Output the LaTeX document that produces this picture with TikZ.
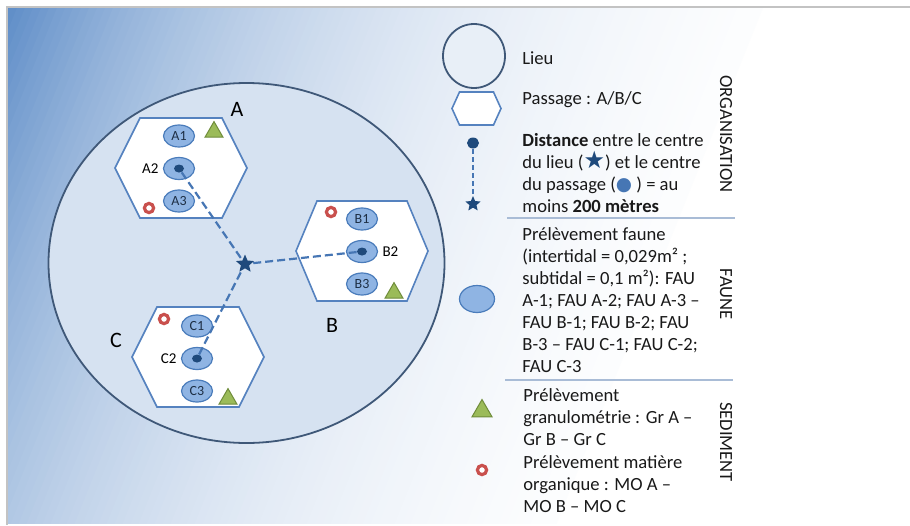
\documentclass[tikz,border=0pt]{standalone}
\usepackage{fontspec}
\setmainfont{Carlito}
\newfontfamily\symfont{DejaVu Sans}
\usetikzlibrary{shapes.geometric}
\definecolor{bgdark}{HTML}{5A8AC6}
\definecolor{framegray}{HTML}{C3C3C3}
\definecolor{lieufill}{HTML}{D6E2F1}
\definecolor{lieuline}{HTML}{3F5878}
\definecolor{passline}{HTML}{5582BF}
\definecolor{faunefill}{HTML}{8FB4E3}
\definecolor{fauneline}{HTML}{4A7CBB}
\definecolor{navy}{HTML}{1F4A7C}
\definecolor{distblue}{HTML}{4676B4}
\definecolor{grfill}{HTML}{9BBB59}
\definecolor{grline}{HTML}{6F8C3A}
\definecolor{mored}{HTML}{C9504D}
\definecolor{sepline}{HTML}{A9BCD6}
\definecolor{inktext}{HTML}{1E2F45}
\tikzset{
  lieu/.style={ellipse, draw=lieuline, line width=0.9pt, fill=lieufill, inner sep=0pt},
  passage/.style={draw=passline, line width=0.8pt, fill=white, line join=miter},
  faune/.style={ellipse, draw=fauneline, line width=0.6pt, fill=faunefill, inner sep=0pt,
    minimum width=15.5pt, minimum height=11pt, font=\fontsize{7}{8}\selectfont, text=inktext},
  centredot/.style={ellipse, fill=navy, inner sep=0pt, minimum width=5pt, minimum height=4pt},
  centrestar/.style={star, star points=5, star point ratio=2.2, fill=navy, inner sep=0pt, minimum size=9.5pt},
  distline/.style={distblue, line width=1.1pt, dash pattern=on 4pt off 2pt},
  granulo/.style={regular polygon, regular polygon sides=3, fill=grfill, draw=grline,
    line width=0.5pt, inner sep=0pt, minimum size=10.4pt},
  matorg/.style={circle, draw=mored, fill=white, line width=1.6pt, inner sep=0pt, minimum size=4.6pt},
  siteletter/.style={font=\fontsize{11}{13}\selectfont},
  samplelabel/.style={font=\fontsize{7.5}{9}\selectfont, inner sep=0.5pt, label distance=1.5pt},
  legtext/.style={anchor=west, align=left, inner sep=0pt, text=black!90, font=\fontsize{9.3}{11}\selectfont},
  theme/.style={rotate=-90, inner sep=0pt, text=black!90, font=\fontsize{9.3}{11}\selectfont},
}

\begin{document}
\begin{tikzpicture}[x=0.5pt,y=-0.5pt]
\useasboundingbox (0,0) rectangle (910,525);
\fill[white] (0,0) rectangle (910,525);
% backdrop, dark top left to white
\begin{scope}
\clip (8,8) rectangle (910,523);
\foreach \t in {-20,-12,...,760}{
  \pgfmathsetmacro\p{min(100,max(0,100*(exp(-\t/320)-0.08)/0.92))}
  \fill[bgdark!\p!white] ({\t},0) -- ({\t+10},0) -- ({\t+10-212},530) -- ({\t-212},530) -- cycle;
}
\end{scope}
\draw[framegray, line width=1pt] (7,525) -- (7,7) -- (910,7);

% le lieu
\node[lieu, minimum width=198pt, minimum height=180pt] (lieu) at (246.5,263) {};

% passages
\foreach \cx/\cy/\hw in {181/168/41, 362/251/45, 198/357/41}
  \draw[passage] (\cx-\hw,\cy-50) -- (\cx+\hw,\cy-50) -- (\cx+66,\cy) -- (\cx+\hw,\cy+50)
    -- (\cx-\hw,\cy+50) -- (\cx-66,\cy) -- cycle;

\node[siteletter] (siteA) at (237,109) {A};
\node[siteletter] (siteB) at (332,325) {B};
\node[siteletter] (siteC) at (116,340) {C};

% prelevements faune
\foreach \n/\N/\cx/\cy/\side in {a/A/179/136/left, b/B/362/219/right, c/C/197/326/left}{
  \node[faune] (\n1) at (\cx,\cy) {\N1};
  \node[faune, label={[samplelabel]\side:\N2}] (\n2) at (\cx,\cy+32.5) {};
  \node[centredot] (\n2c) at (\n2) {};
  \node[faune] (\n3) at (\cx,\cy+65) {\N3};
}

% sediment
\node[granulo] (grA) at (214,132) {};
\node[granulo] (grB) at (394,293) {};
\node[granulo] (grC) at (228,399) {};
\node[matorg] (moA) at (149,208) {};
\node[matorg] (moB) at (331,212) {};
\node[matorg] (moC) at (164,319) {};

\node[centrestar] (centre) at (245,264) {};
\foreach \n in {a,b,c}
  \draw[distline] (\n2c) -- (centre);

% legende
\node[lieu, fill=lieufill!55!white, minimum width=31pt, minimum height=32pt] (keylieu) at (474,56) {};
\node[legtext] (txtlieu) at (522,58) {Lieu};
\draw[passage] (459.5,92) -- (493.5,92) -- (501,108.5) -- (493.5,125) -- (459.5,125) -- (452,108.5) -- cycle;
\node[legtext] (txtpass) at (522,100) {Passage : A/B/C};
\node[centredot, minimum width=6pt, minimum height=5.5pt] (keydot) at (473,143) {};
\node[centrestar, minimum size=8pt] (keystar) at (473,204) {};
\draw[distline, dash pattern=on 2.5pt off 1.5pt] (keydot) -- (keystar);
\node[legtext] (txtdist) at (522,173) {\textbf{Distance} entre le centre\\
  du lieu ({\symfont\fontsize{12}{11}\selectfont\color{navy}★}) et le centre\\
  du passage ({\symfont\color{distblue}●} ) = au\\
  moins \textbf{200 mètres}};
\node[theme] (thorg) at (726,134) {ORGANISATION};
\draw[sepline, line width=0.8pt] (507,218) -- (735,218);

\node[faune, minimum width=17.5pt, minimum height=13.5pt] (keyfaune) at (477,299) {};
\node[legtext] (txtfaune) at (522,300) {Prélèvement faune\\
  (intertidal = 0,029m² ;\\
  subtidal = 0,1 m²): FAU\\
  A-1; FAU A-2; FAU A-3 –\\
  FAU B-1; FAU B-2; FAU\\
  B-3 – FAU C-1; FAU C-2;\\
  FAU C-3};
\node[theme] (thfaune) at (726,294) {FAUNE};
\draw[sepline, line width=0.8pt] (505,380) -- (733,380);

\node[granulo, minimum size=11.5pt] (keygr) at (482,411) {};
\node[legtext] (txtgr) at (523,417.5) {Prélèvement\\granulométrie : Gr A –\\Gr B – Gr C};
\node[matorg] (keymo) at (482,470) {};
\node[legtext] (txtmo) at (523,484) {Prélèvement matière\\organique : MO A –\\MO B – MO C};
\node[theme] (thsed) at (726,442) {SEDIMENT};
\end{tikzpicture}
\end{document}
